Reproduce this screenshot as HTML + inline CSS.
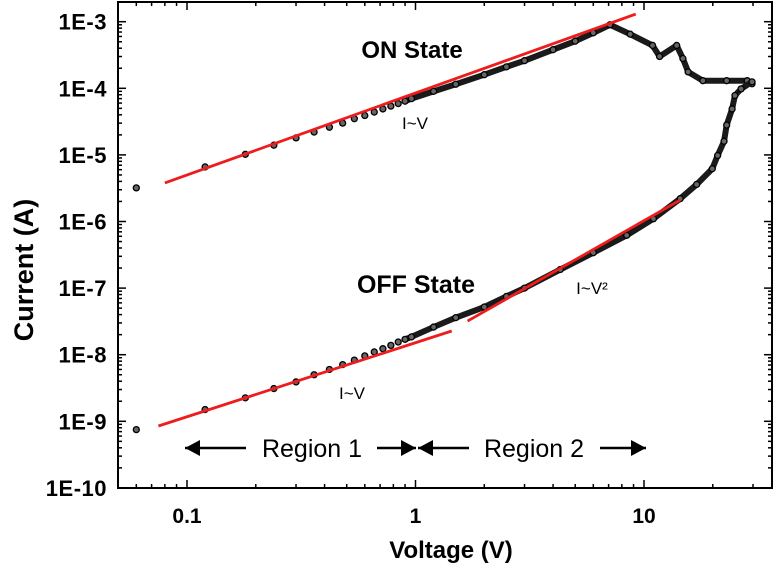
<!DOCTYPE html>
<html><head><meta charset="utf-8"><style>
html,body{margin:0;padding:0;background:#fff;}
svg{display:block;font-family:"Liberation Sans",Arial,sans-serif;}
</style></head><body>
<svg id="chart" width="784" height="570" viewBox="0 0 784 570" xmlns="http://www.w3.org/2000/svg"></svg>
<script>
const xTickLabels=["0.1","1","10"];
const xTickValues=[0.1,1,10];
const yTickLabels=["1E-3","1E-4","1E-5","1E-6","1E-7","1E-8","1E-9","1E-10"];
const yTickValues=[1e-3,1e-4,1e-5,1e-6,1e-7,1e-8,1e-9,1e-10];
const onV=[0.06,0.12,0.18,0.24,0.30,0.36,0.42,0.48,0.54,0.60,0.66,0.72,0.78,0.84,0.90,0.96,1.2,1.5,2,2.5,3,4,5,6,7.1,8.7,10.9,11.7,13.9,14.8,15.6,18.1,23,28.3,29.7];
const onI=[3.2e-6,6.6e-6,1.02e-5,1.4e-5,1.8e-5,2.2e-5,2.6e-5,3.0e-5,3.5e-5,3.9e-5,4.4e-5,4.9e-5,5.4e-5,5.9e-5,6.4e-5,7.0e-5,9.0e-5,1.15e-4,1.6e-4,2.1e-4,2.6e-4,3.8e-4,5.1e-4,6.8e-4,9.0e-4,6.5e-4,4.4e-4,3.0e-4,4.4e-4,2.8e-4,1.76e-4,1.3e-4,1.3e-4,1.3e-4,1.17e-4];
const offV=[0.06,0.12,0.18,0.24,0.30,0.36,0.42,0.48,0.54,0.60,0.66,0.72,0.78,0.84,0.90,0.96,1.2,1.5,2,2.5,3,4.3,6,8.4,11,14.4,17,19.9,21,22.4,23,24.3,25,26.6,29.7];
const offI=[7.5e-10,1.5e-9,2.25e-9,3.1e-9,3.9e-9,5.0e-9,6.0e-9,7.1e-9,8.3e-9,9.6e-9,1.1e-8,1.23e-8,1.38e-8,1.55e-8,1.7e-8,1.85e-8,2.6e-8,3.6e-8,5.2e-8,7.5e-8,1.0e-7,1.9e-7,3.4e-7,6.2e-7,1.1e-6,2.2e-6,3.6e-6,6.2e-6,9.8e-6,1.6e-5,2.8e-5,4.9e-5,7.8e-5,9.8e-5,1.25e-4];
const fitOnV=[0.08,9.2];
const fitOnI=[3.8e-6,1.3e-3];
const fitOff1V=[0.075,1.44];
const fitOff1I=[8.5e-10,2.27e-8];
const fitOff2V=[1.69,14.4];
const fitOff2I=[3.2e-8,2.1e-6];

const L=118,R=772,T=2,B=488;
function xs(v){return 187+228.5*(Math.log10(v)+1);}
function ys(i){return 21.7+66.6*(-3-Math.log10(i));}
const svg=document.getElementById('chart');
const NS='http://www.w3.org/2000/svg';
function mk(tag,attrs,parent){const e=document.createElementNS(NS,tag);for(const k in attrs)e.setAttribute(k,attrs[k]);(parent||svg).appendChild(e);return e;}

let fr=mk('rect',{x:L,y:T,width:R-L,height:B-T,fill:'none',stroke:'#000','stroke-width':2});



const tg=mk('g',{stroke:'#000','stroke-width':1.5});


for(let d=-2;d<=1;d++){for(let m=1;m<10;m++){const v=m*Math.pow(10,d);const x=xs(v);if(x<=L||x>=R)continue;const len=m===1?8:4;
mk('line',{x1:x,y1:B,x2:x,y2:B-len},tg);mk('line',{x1:x,y1:T,x2:x,y2:T+len},tg);}}
for(let d=-10;d<=-3;d++){for(let m=1;m<10;m++){const v=m*Math.pow(10,d);const y=ys(v);if(y<=T||y>=B)continue;const len=m===1?8:4;
mk('line',{x1:L,y1:y,x2:L+len,y2:y},tg);mk('line',{x1:R,y1:y,x2:R-len,y2:y},tg);}}

xTickValues.forEach((v,i)=>{const t=mk('text',{x:xs(v),y:523,'text-anchor':'middle','font-size':21,'font-weight':'bold'});t.textContent=xTickLabels[i];

});
yTickValues.forEach((v,i)=>{const t=mk('text',{x:107,y:ys(v)+8,'text-anchor':'end','font-size':22,'font-weight':'bold','letter-spacing':'0.5'});t.textContent=yTickLabels[i];

});

let xt=mk('text',{x:451,y:558,'text-anchor':'middle','font-size':24,'font-weight':'bold'});xt.textContent='Voltage (V)';


let yt=mk('text',{x:0,y:0,'text-anchor':'middle','font-size':27,'font-weight':'bold',transform:'translate(33,270) rotate(-90)'});yt.textContent='Current (A)';



function series(V,I,name){
  const g=mk('g',{});
  
  
  const pts=[];V.forEach((v,i)=>{if(v>=0.9)pts.push(xs(v)+','+ys(I[i]));});
  mk('polyline',{points:pts.join(' '),fill:'none',stroke:'#1a1a1a','stroke-width':6,'stroke-linejoin':'round'},g);
  V.forEach((v,i)=>{const c=mk('circle',{cx:xs(v),cy:ys(I[i]),r:3,fill:'#666',stroke:'#000','stroke-width':1.3},g);
    
    });
}
series(onV,onI,'on-state-series');
series(offV,offI,'off-state-series');

function fit(V,I,name){const l=mk('line',{x1:xs(V[0]),y1:ys(I[0]),x2:xs(V[1]),y2:ys(I[1]),stroke:'#ee1c1c','stroke-width':2.8});

}
fit(fitOnV,fitOnI,'on-fit-line');
fit(fitOff1V,fitOff1I,'off-fit-line-region1');
fit(fitOff2V,fitOff2I,'off-fit-line-region2');

function txt(x,y,s,size,bold,name){const t=mk('text',{x:x,y:y,'text-anchor':'middle','font-size':size,'font-weight':bold?'bold':'normal'});t.textContent=s;

return t;}
txt(412,58,'ON State',24,true,'on-state-label');
txt(415,129,'I~V',17,false,'on-iv-label');
txt(416,293,'OFF State',25,true,'off-state-label');
txt(592,294,'I~V²',17,false,'off-iv2-label');
txt(352,399,'I~V',17,false,'off-iv-label');
txt(312,457,'Region 1',25,false,'region1-label');
txt(534,457,'Region 2',25,false,'region2-label');

function arrow(x1,x2,name){const g=mk('g',{});


const y=448;mk('line',{x1:x1,y1:y,x2:x2,y2:y,stroke:'#000','stroke-width':2.5},g);
const d=x2>x1?1:-1;mk('polygon',{points:`${x2},${y} ${x2-d*15},${y-8} ${x2-d*15},${y+8}`,fill:'#000'},g);}
arrow(246,185,'region1-left-arrow');
arrow(377,416,'region1-right-arrow');
arrow(469,418,'region2-left-arrow');
arrow(600,646,'region2-right-arrow');
</script>
</body></html>
